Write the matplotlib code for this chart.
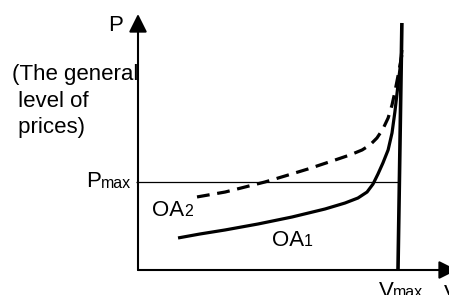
import matplotlib
matplotlib.use("Agg")
import matplotlib.pyplot as plt
from matplotlib.patches import FancyArrowPatch

plt.rcParams['font.family'] = ['Liberation Sans', 'DejaVu Sans']

# ---- data (V: output relative to V_max, P: price level relative to P_max) ----
v_oa1 = [0.154, 0.238, 0.335, 0.462, 0.592, 0.719, 0.796, 0.846, 0.881, 0.904,
         0.923, 0.942, 0.962, 0.977, 0.988, 1.000, 1.008, 1.015]
p_oa1 = [0.364, 0.409, 0.455, 0.523, 0.602, 0.693, 0.761, 0.818, 0.886, 0.977,
         1.091, 1.216, 1.364, 1.557, 1.795, 2.102, 2.295, 2.500]

v_oa2 = [0.227, 0.335, 0.488, 0.565, 0.654, 0.758, 0.815, 0.862, 0.892, 0.919,
         0.942, 0.962, 0.977, 0.988, 1.000, 1.015]
p_oa2 = [0.830, 0.886, 1.000, 1.068, 1.148, 1.250, 1.307, 1.364, 1.420, 1.500,
         1.602, 1.727, 1.875, 2.023, 2.205, 2.443]

V_MAX = 1.0
V_MAX_TOP = 1.015
P_MAX = 1.0
P_LINE_TOP = 2.807
P_AXIS_TOP = 2.909
V_AXIS_END = 1.227

p_axis_label = 'P'
p_desc_lines = ['(The general', ' level of', ' prices)']
pmax_label = ('P', 'max')
oa2_label = ('OA', '2')
oa1_label = ('OA', '1')
vmax_label = ('V', 'max')
v_axis_label = 'V'

fig = plt.figure(figsize=(4.49, 2.95), dpi=100)
ax = fig.add_axes([0, 0, 1, 1])
ax.set_xlim(-0.5308, 1.1962)
ax.set_ylim(-0.2841, 3.0682)
ax.axis('off')

# axes with arrows
ax.add_patch(FancyArrowPatch((0, 0), (0, P_AXIS_TOP), arrowstyle='-|>,head_length=11,head_width=5.5',
                             mutation_scale=1, lw=1.5, color='black', shrinkA=0, shrinkB=0, clip_on=False))
ax.add_patch(FancyArrowPatch((0, 0), (V_AXIS_END, 0), arrowstyle='-|>,head_length=11,head_width=5.5',
                             mutation_scale=1, lw=1.5, color='black', shrinkA=0, shrinkB=0, clip_on=False))

# P_max horizontal line
ax.plot([-0.008, V_MAX + 0.008], [P_MAX, P_MAX], color='black', lw=0.9, solid_capstyle='butt')
# V_max vertical line
ax.plot([V_MAX, V_MAX_TOP], [0, P_LINE_TOP], color='black', lw=2.6, solid_capstyle='butt')

# curves
ax.plot(v_oa1, p_oa1, color='black', lw=2.3, solid_capstyle='butt', solid_joinstyle='round')
ax.plot(v_oa2, p_oa2, color='black', lw=2.3, linestyle=(0, (4.0, 2.4)), dash_capstyle='butt')

# texts
FS = 16
SFS = 11.5

def px(xp, yp):
    return ((xp - 138) / 260.0, (270 - yp) / 88.0)

def T(xp, yp, s, fs=FS):
    return ax.text(*px(xp, yp), s, fontsize=fs, ha='left', va='baseline', color='black')

fig.canvas.draw()
renderer = fig.canvas.get_renderer()

def TS(xp, yp, pair, dy=0.5):
    t = T(xp, yp, pair[0])
    bb = t.get_window_extent(renderer=renderer)
    xd, _ = ax.transData.inverted().transform((bb.x1, 0))
    ax.text(xd, px(0, yp + dy)[1], pair[1], fontsize=SFS, ha='left', va='baseline', color='black')

T(108.5, 31, p_axis_label)
for i, line in enumerate(p_desc_lines):
    T(12, 80 + 26.5 * i, line)
TS(86.5, 187, pmax_label)
TS(152, 216, oa2_label)
TS(272, 246, oa1_label)
TS(378.5, 297, vmax_label)
T(443.5, 300, v_axis_label)

fig.savefig('out.png', dpi=100)
